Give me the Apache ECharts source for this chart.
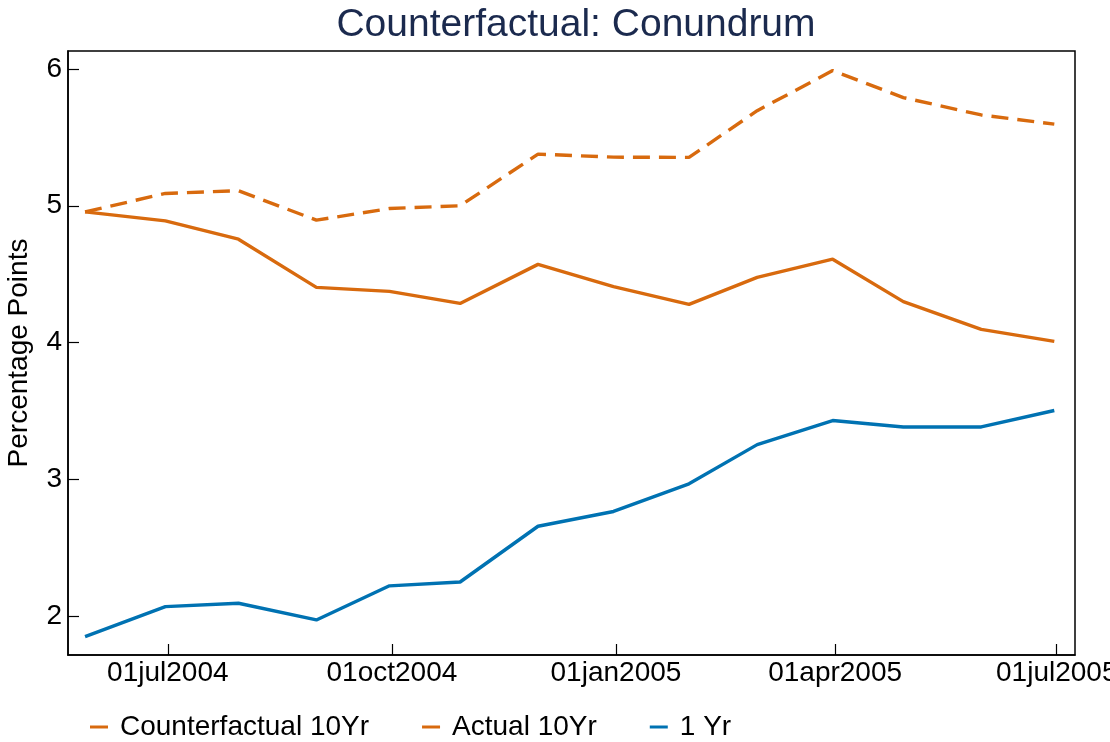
<!DOCTYPE html>
<html>
<head>
<meta charset="utf-8">
<script src="https://cdn.jsdelivr.net/npm/echarts@6/dist/echarts.min.js"></script>
<style>html,body{margin:0;padding:0;background:#fff}#c{width:1110px;height:742px}</style>
</head>
<body>
<div id="c"></div>
<script>
const dates = ['2004-05-28','2004-06-30','2004-07-30','2004-08-31','2004-09-30','2004-10-29','2004-11-30','2004-12-31','2005-01-31','2005-02-28','2005-03-31','2005-04-29','2005-05-31','2005-06-30'];
const counterfactual10 = [4.955,5.09,5.11,4.895,4.98,5.0,5.377,5.355,5.353,5.694,5.987,5.79,5.663,5.596];
const actual10 = [4.955,4.89,4.756,4.404,4.375,4.287,4.572,4.41,4.28,4.477,4.61,4.30,4.097,4.01];
const oneYr = [1.854,2.073,2.098,1.976,2.225,2.253,2.66,2.768,2.97,3.256,3.432,3.385,3.385,3.505];
const xTicks = ['2004-07-01','2004-10-01','2005-01-01','2005-04-01','2005-07-01'];
const yTicks = [2,3,4,5,6];
const months = ['jan','feb','mar','apr','may','jun','jul','aug','sep','oct','nov','dec'];

const DAY = 86400000;
const ts = s => { const p = s.split('-').map(Number); return Date.UTC(p[0], p[1]-1, p[2]) / DAY; };
const pairs = arr => dates.map((d,i) => [ts(d), arr[i]]);
const fmt = v => { const d = new Date(Math.round(v) * DAY); return String(d.getUTCDate()).padStart(2,'0') + months[d.getUTCMonth()] + d.getUTCFullYear(); };

const FONT = '"Liberation Sans", Arial, Helvetica, sans-serif';
const ORANGE = '#D86A0E';
const BLUE = '#0072B2';

const chart = echarts.init(document.getElementById('c'), null, {renderer:'canvas'});
chart.setOption({
  animation: false,
  backgroundColor: '#fff',
  title: {
    text: 'Counterfactual: Conundrum',
    left: 571, textAlign: 'center', top: 1,
    textStyle: {fontFamily: FONT, fontSize: 39, fontWeight: 'normal', color: '#1b2a4e'}
  },
  grid: {left: 68, right: 35, top: 51, bottom: 87, show: true, borderColor: '#000', borderWidth: 1.5, containLabel: false, outerBoundsMode: 'none'},
  legend: {
    left: 85, bottom: -4, icon: 'rect', itemWidth: 18, itemHeight: 3, itemGap: 53,
    textStyle: {fontFamily: FONT, fontSize: 28, color: '#000', padding: [0,0,0,7]},
    data: ['Counterfactual 10Yr','Actual 10Yr','1 Yr']
  },
  xAxis: {
    type: 'value',
    min: ts('2004-05-21'), max: ts('2005-07-08') + 0.5,
    splitLine: {show: false},
    axisLine: {show: true, lineStyle: {color: '#000', width: 1.5}},
    axisTick: {show: true, inside: true, length: 11, lineStyle: {color: '#000', width: 1.2}, customValues: xTicks.map(ts)},
    axisLabel: {customValues: xTicks.map(ts), formatter: v => fmt(v), fontFamily: FONT, fontSize: 28, color: '#000', margin: 4, showMinLabel: true, showMaxLabel: true, hideOverlap: false}
  },
  yAxis: {
    type: 'value', min: 1.72, max: 6.13,
    name: 'Percentage Points', nameLocation: 'middle', nameGap: 35,
    nameTextStyle: {fontFamily: FONT, fontSize: 28, color: '#000'},
    splitLine: {show: false},
    axisLine: {show: true, lineStyle: {color: '#000', width: 1.5}},
    axisTick: {show: true, inside: true, length: 11, lineStyle: {color: '#000', width: 1.2}, customValues: yTicks},
    axisLabel: {customValues: yTicks, fontFamily: FONT, fontSize: 28, color: '#000', margin: 6}
  },
  series: [
    {name: 'Counterfactual 10Yr', type: 'line', data: pairs(counterfactual10), symbol: 'none', color: ORANGE, lineStyle: {width: 3.4, color: ORANGE, type: [17, 9]}},
    {name: 'Actual 10Yr', type: 'line', data: pairs(actual10), symbol: 'none', color: ORANGE, lineStyle: {width: 3.4, color: ORANGE}},
    {name: '1 Yr', type: 'line', data: pairs(oneYr), symbol: 'none', color: BLUE, lineStyle: {width: 3.4, color: BLUE}}
  ]
});
</script>
</body>
</html>
